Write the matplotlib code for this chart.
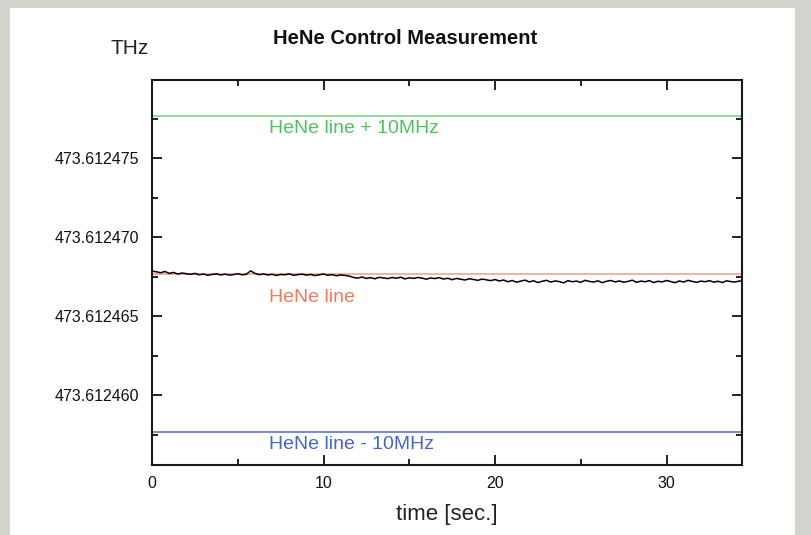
import matplotlib.pyplot as plt
from matplotlib.patches import Rectangle
from matplotlib.ticker import FixedLocator, MultipleLocator
import numpy as np

plt.rcParams['font.family'] = ['Liberation Sans', 'DejaVu Sans']

# frequency offsets in MHz above 473.612 THz
hene_line = 467.65
hene_plus = hene_line + 10
hene_minus = hene_line - 10

# measured trace, one reading every 0.25 s
dt = 0.25
trace = [
    467.85, 467.80, 467.74, 467.82, 467.70, 467.76, 467.66, 467.72, 467.68,
    467.64, 467.70, 467.61, 467.66, 467.58, 467.63, 467.67, 467.60, 467.65,
    467.59, 467.62, 467.68, 467.61, 467.64,
    467.86, 467.70, 467.62,
    467.66, 467.60, 467.64, 467.57, 467.63, 467.61, 467.67, 467.58, 467.62,
    467.65, 467.59, 467.63, 467.56, 467.61, 467.66, 467.58, 467.62, 467.55,
    467.60, 467.57, 467.53,
    467.44, 467.40, 467.47, 467.38, 467.43, 467.36, 467.45, 467.41, 467.37,
    467.44, 467.39, 467.46, 467.35, 467.42, 467.38, 467.44, 467.40, 467.33,
    467.41, 467.37, 467.43, 467.34, 467.39, 467.30, 467.38, 467.33, 467.28,
    467.36, 467.31, 467.26, 467.34, 467.29, 467.24, 467.31,
    467.22, 467.28, 467.17, 467.25, 467.14, 467.21, 467.27, 467.16, 467.23,
    467.12, 467.20, 467.26, 467.15, 467.22, 467.18, 467.10, 467.24, 467.17,
    467.21, 467.13, 467.26, 467.19, 467.15, 467.23, 467.11, 467.20, 467.25,
    467.16, 467.22, 467.14, 467.19, 467.27, 467.13, 467.21, 467.17, 467.24,
    467.12, 467.20, 467.16, 467.25, 467.18, 467.11, 467.22, 467.15, 467.26,
    467.19, 467.13, 467.21, 467.17, 467.24, 467.14, 467.20, 467.12, 467.23,
    467.18, 467.15, 467.22, 467.16,
]
time = np.arange(len(trace)) * dt

ytick_vals = [460, 465, 470, 475]
ytick_labels = ['473.612460', '473.612465', '473.612470', '473.612475']
xtick_vals = [0, 10, 20, 30]

fig = plt.figure(figsize=(8.11, 5.35), dpi=100, facecolor='#d3d3cd')
fig.patches.append(Rectangle((10 / 811, 0), 785 / 811, 527 / 535,
                             transform=fig.transFigure, facecolor='white',
                             edgecolor='none', zorder=-1))
ax = fig.add_axes([152 / 811, 1 - 465 / 535, 590 / 811, 385 / 535])

ax.axhline(hene_plus, color='#7cd48a', lw=1.2)
ax.axhline(hene_line, color='#f3a48c', lw=1.2)
ax.axhline(hene_minus, color='#5a78d6', lw=1.2)
ax.plot(time, trace, color='black', lw=1.1)

ax.text(6.85, hene_plus - 0.8, 'HeNe line + 10MHz', color='#52c062',
        fontsize=14, va='center')
ax.text(6.85, hene_line - 1.5, 'HeNe line', color='#f07a5c',
        fontsize=14, va='center')
ax.text(6.85, hene_minus - 0.8, 'HeNe line - 10MHz', color='#4466cc',
        fontsize=14, va='center')

ax.set_xlim(0, 34.4)
ax.set_ylim(455.57, 479.94)
ax.xaxis.set_major_locator(FixedLocator(xtick_vals))
ax.xaxis.set_minor_locator(MultipleLocator(5))
ax.yaxis.set_major_locator(FixedLocator(ytick_vals))
ax.set_yticklabels(ytick_labels)
ax.yaxis.set_minor_locator(MultipleLocator(2.5))
ax.tick_params(which='both', direction='in', top=True, right=True,
               width=1.3, colors='#111111', labelsize=11.5)
ax.tick_params(which='major', length=7)
ax.tick_params(which='minor', length=4)
ax.tick_params(axis='y', pad=9)
ax.tick_params(axis='x', pad=8)
for s in ax.spines.values():
    s.set_linewidth(1.5)
    s.set_color('#1a1a1a')

ax.set_xlabel('time [sec.]', fontsize=16, color='#222222', labelpad=9)
fig.text(405 / 811, 1 - 38 / 535, 'HeNe Control Measurement',
         fontsize=14.5, fontweight='bold', ha='center', va='center',
         color='#111111')
fig.text(130 / 811, 1 - 48 / 535, 'THz', fontsize=15, ha='center',
         va='center', color='#222222')

fig.savefig('out.png', dpi=100, facecolor=fig.get_facecolor())
